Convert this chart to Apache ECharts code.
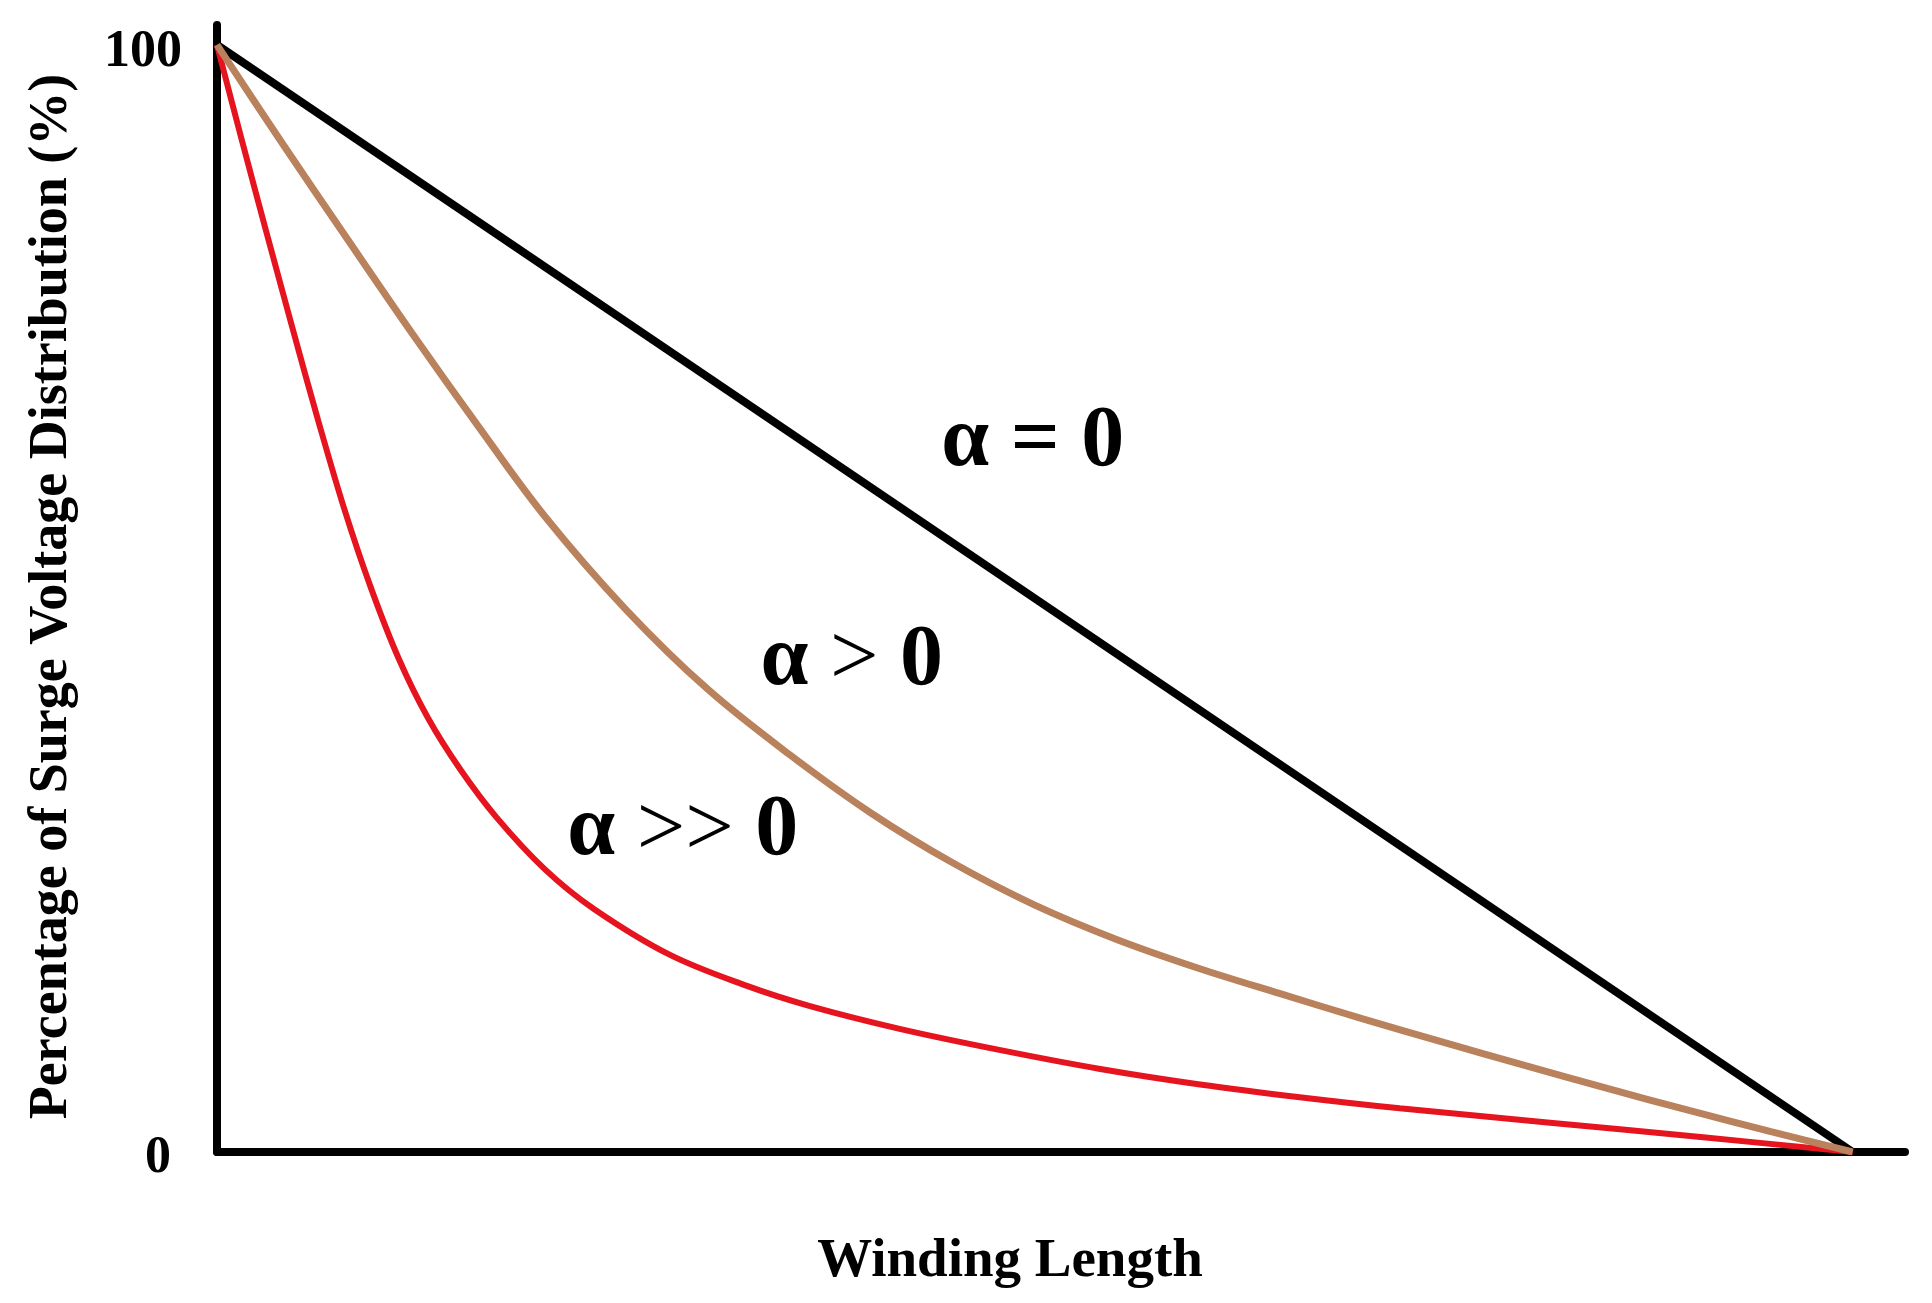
<!DOCTYPE html>
<html>
<head>
<meta charset="utf-8">
<script src="https://cdn.jsdelivr.net/npm/echarts@6/dist/echarts.min.js"></script>
<style>
html,body{margin:0;padding:0;background:#fff;}
#chart{width:1932px;height:1303px;}
</style>
</head>
<body>
<div id="chart"></div>
<script>
// Winding length (fraction of winding) and surge voltage (%)
const blackX = [0, 1];
const blackY = [100, 0];

const brownX = [0, 0.04, 0.08, 0.12, 0.16, 0.20, 0.25, 0.30, 0.35, 0.40, 0.45, 0.50, 0.55, 0.60, 0.65, 0.70, 0.75, 0.80, 0.85, 0.90, 0.95, 1];
const brownY = [100, 91.1, 82.4, 73.8, 65.5, 57.5, 49.0, 41.8, 35.9, 30.6, 26.1, 22.3, 19.2, 16.6, 14.3, 12.05, 9.9, 7.8, 5.75, 3.75, 1.85, 0];

const redX = [0, 0.015, 0.030, 0.046, 0.062, 0.078, 0.094, 0.111, 0.129, 0.149, 0.171, 0.200, 0.230, 0.277, 0.324, 0.362, 0.418, 0.479, 0.540, 0.601, 0.662, 0.723, 0.815, 0.907, 1];
const redY = [100, 91.5, 83.2, 74.5, 66.0, 58.0, 51.0, 44.6, 39.2, 34.5, 30.2, 25.6, 22.0, 17.8, 15.0, 13.2, 11.1, 9.2, 7.5, 6.1, 4.95, 3.95, 2.65, 1.35, 0];

const yTicks = [0, 100];
const xTitle = 'Winding Length';
const yTitle = 'Percentage of Surge Voltage Distribution (%)';

// annotation labels
const annoText = [
  { x: 0.4988, y: 64.1, op: '=', bold: true },
  { x: 0.388, y: 44.3, op: '>', bold: false },
  { x: 0.2848, y: 28.9, op: '>>', bold: false }
];

const zip = (xs, ys) => xs.map((x, i) => [x, ys[i]]);
const FONT = '"Liberation Serif", "Times New Roman", serif';

const chart = echarts.init(document.getElementById('chart'), null, { renderer: 'canvas' });
chart.setOption({
  backgroundColor: '#ffffff',
  animation: false,
  grid: { left: 217, right: 27, top: 25, bottom: 151, containLabel: false },
  xAxis: {
    type: 'value', min: 0, max: 1.032,
    axisLine: { show: true, lineStyle: { color: '#000', width: 8, cap: 'round' } },
    axisTick: { show: false }, axisLabel: { show: false }, splitLine: { show: false },
    name: xTitle, nameLocation: 'middle', nameGap: 82,
    nameTextStyle: { fontFamily: FONT, fontWeight: 'bold', fontSize: 55, color: '#000', padding: [0, 102, 0, 0] }
  },
  yAxis: {
    type: 'value', min: 0, max: 101.8, interval: 100,
    axisLine: { show: true, lineStyle: { color: '#000', width: 8, cap: 'round' } },
    axisTick: { show: false }, splitLine: { show: false },
    axisLabel: {
      show: true, margin: 35,
      formatter: v => (yTicks.indexOf(v) >= 0 ? (v === 0 ? '{b|0}' : '{a|100}') : ''),
      rich: {
        a: { fontFamily: FONT, fontWeight: 'bold', fontSize: 52, color: '#000', padding: [16, 0, 0, 0] },
        b: { fontFamily: FONT, fontWeight: 'bold', fontSize: 52, color: '#000', padding: [14, 11, 0, 0] }
      }
    },
    name: yTitle, nameLocation: 'middle', nameGap: 138, nameRotate: 90,
    nameTextStyle: { fontFamily: FONT, fontWeight: 'bold', fontSize: 54, color: '#000', padding: [0, 16, 0, 0] }
  },
  series: [
    { type: 'line', data: zip(blackX, blackY), symbol: 'none', lineStyle: { color: '#000', width: 8 }, z: 3 },
    { type: 'line', data: zip(redX, redY), symbol: 'none', smooth: 0.35, lineStyle: { color: '#e5141f', width: 6 }, z: 4 },
    { type: 'line', data: zip(brownX, brownY), symbol: 'none', smooth: 0.35, lineStyle: { color: '#b9815c', width: 7 }, z: 5 },
    {
      type: 'scatter', symbolSize: 0, z: 6, silent: true,
      itemStyle: { opacity: 1, color: '#000' },
      data: annoText.map(a => ({ value: [a.x, a.y], op: a.op, bold: a.bold })),
      label: {
        show: true, position: 'inside', color: '#000', opacity: 1, textBorderWidth: 0,
        formatter: p => '{s|α }{' + (p.data.bold ? 'ob' : 'o') + '|' + p.data.op + '}{s| 0}',
        rich: {
          s: { fontFamily: FONT, fontWeight: 'bold', fontSize: 86, color: '#000', textBorderWidth: 0 },
          o: { fontFamily: FONT, fontWeight: 'normal', fontSize: 86, color: '#000', textBorderWidth: 0 },
          ob: { fontFamily: FONT, fontWeight: 'bold', fontSize: 86, color: '#000', textBorderWidth: 0 }
        }
      }
    }
  ]
});
</script>
</body>
</html>
